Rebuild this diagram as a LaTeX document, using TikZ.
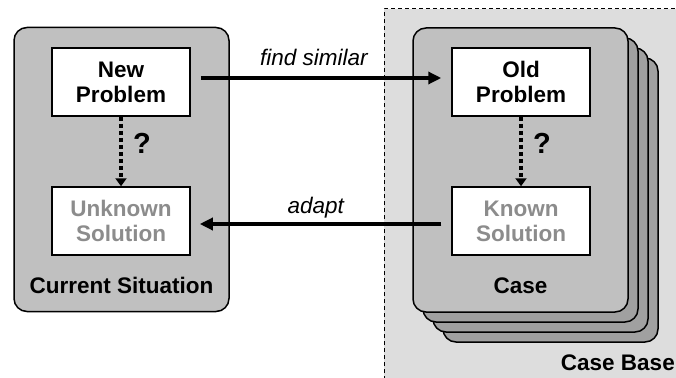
\documentclass[tikz,border=0pt]{standalone}
\usepackage{fontspec}
\setmainfont{Liberation Sans}
\usetikzlibrary{arrows.meta}
\definecolor{basefill}{RGB}{221,221,221}
\definecolor{cardfill}{RGB}{192,192,192}
\definecolor{backfill}{RGB}{160,160,160}
\definecolor{fadedtext}{RGB}{140,140,140}
\tikzset{
  card/.style={draw=black, line width=1.5pt, fill=cardfill, rounded corners=13pt,
    minimum width=215pt, minimum height=284pt, inner sep=0pt},
  backcard/.style={card, fill=backfill},
  itembox/.style={draw=black, line width=1.5pt, fill=white, font=\fontsize{22.5pt}{25pt}\selectfont\bfseries,
    minimum width=138pt, minimum height=68pt, inner sep=0pt, align=center},
  faded/.style={text=fadedtext},
  title/.style={font=\fontsize{22.5pt}{25pt}\selectfont\bfseries, anchor=base, inner sep=0pt},
  flow/.style={line width=4pt, -{Triangle[length=13pt,width=12pt]}},
  infer/.style={line width=4pt, dash pattern=on 4pt off 3pt, -{Triangle[length=8pt,width=11pt]}},
  flowlabel/.style={font=\fontsize{22.5pt}{25pt}\selectfont\itshape, anchor=base, inner sep=0pt},
  qmark/.style={font=\fontsize{29pt}{30pt}\selectfont\bfseries, inner sep=0pt}
}
\begin{document}
\begin{tikzpicture}[x=1pt, y=-1pt]
\useasboundingbox (0,0) rectangle (676,377);

% case base area
\fill[basefill] (384,9) rectangle (680,380);
\draw[line width=1pt, dash pattern=on 4pt off 3pt] (384,380) -- (384,9) -- (680,9);
\node[title, anchor=base east] (basetitle) at (675,370) {Case Base};

% stacked cases
\node[backcard] (card3) at (550.5,200) {};
\node[backcard] (card2) at (540.5,190) {};
\node[backcard] (card1) at (530.5,180) {};
\node[card] (casecard) at (520.5,170) {};
\node[title] (casetitle) at (520.5,293) {Case};

% current situation
\node[card] (current) at (121.5,169.5) {};
\node[title] (currenttitle) at (121.5,293) {Current Situation};

% problem / solution boxes
\node[itembox] (newprob) at (121,82) {New\\Problem};
\node[itembox, faded] (unksol) at (121,221) {Unknown\\Solution};
\node[itembox] (oldprob) at (521,82) {Old\\Problem};
\node[itembox, faded] (knownsol) at (521,221) {Known\\Solution};

% problem-to-solution links
\draw[infer] (newprob.south) -- (unksol.north);
\node[qmark] (q1) at (142,143) {?};
\draw[infer] (oldprob.south) -- (knownsol.north);
\node[qmark] (q2) at (542,143) {?};

% retrieval and adaptation
\draw[flow] ([xshift=10pt, yshift=4pt]newprob.east) -- ([xshift=-10pt, yshift=4pt]oldprob.west)
  node[flowlabel, pos=0.47, yshift=12pt] (findlbl) {find similar};
\draw[flow] ([xshift=-10pt, yshift=-3pt]knownsol.west) -- ([xshift=9pt, yshift=-3pt]unksol.east)
  node[flowlabel, pos=0.52, yshift=11pt] (adaptlbl) {adapt};
\end{tikzpicture}
\end{document}
